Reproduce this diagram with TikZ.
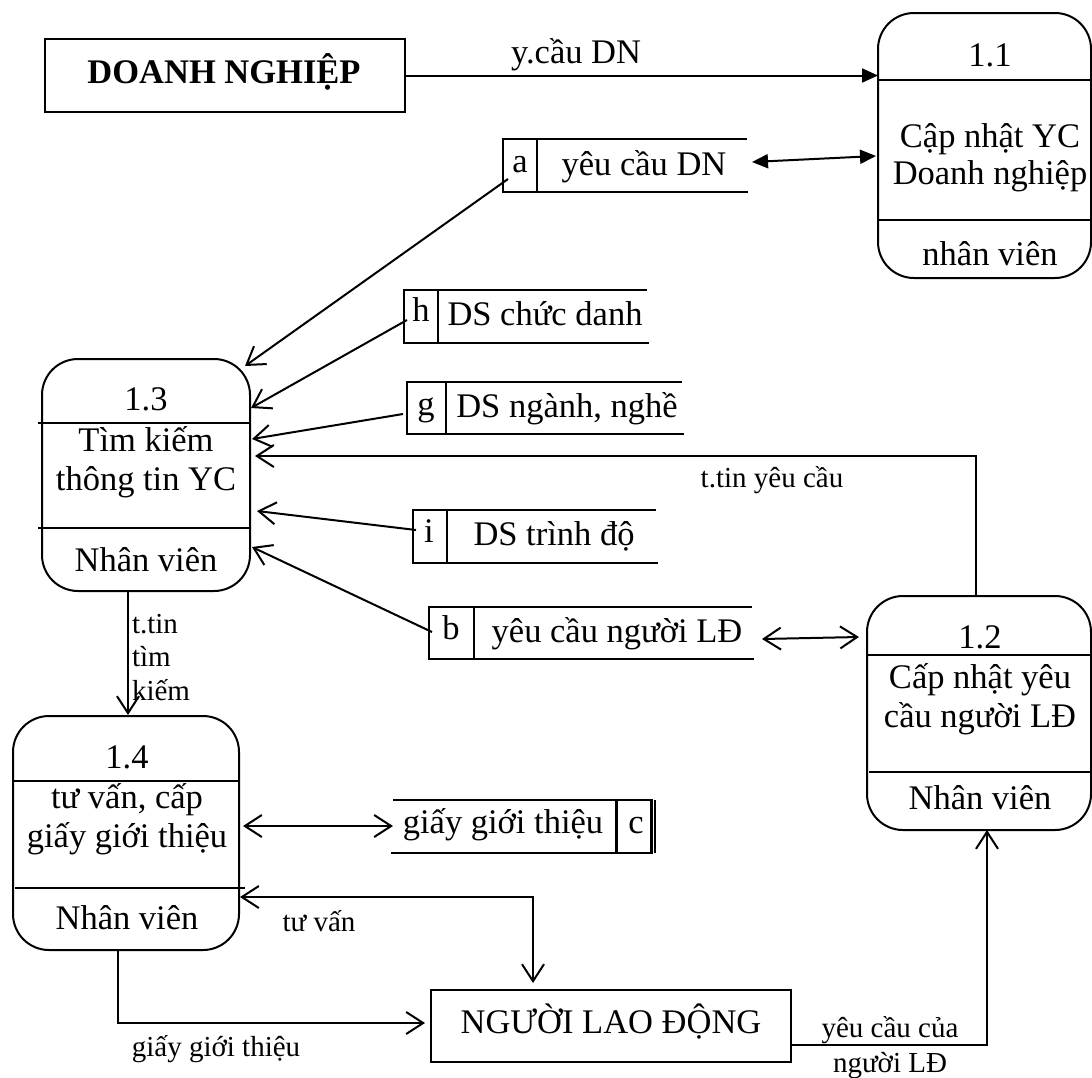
\documentclass[tikz,border=0pt]{standalone}
\usepackage{fontspec}
\setmainfont{Liberation Serif}
\usetikzlibrary{arrows.meta}
\begin{document}
\begin{tikzpicture}[x=0.5pt,y=-0.5pt,
  every node/.style={inner sep=0pt, outer sep=0pt},
  proc/.style={draw, line width=1pt, rounded corners=18pt},
  ent/.style={draw, line width=1pt},
  idbox/.style={draw, line width=1.2pt},
  divider/.style={line width=0.8pt},
  storeline/.style={line width=1pt},
  big/.style={font=\fontsize{17.25}{20}\selectfont, anchor=base},
  small/.style={font=\fontsize{14.5}{17}\selectfont, anchor=base},
  flow/.style={line width=1pt, -{Straight Barb[length=8.5pt,width=11pt]}},
  both/.style={line width=1pt, {Straight Barb[length=8.5pt,width=11pt]}-{Straight Barb[length=8.5pt,width=11pt]}},
  fflow/.style={line width=1pt, -{Triangle[length=8pt,width=7pt]}},
  fboth/.style={line width=1pt, {Triangle[length=8pt,width=7pt]}-{Triangle[length=8pt,width=7pt]}}
]
\useasboundingbox (0,0) rectangle (1092,1077);

% ---------- external entities ----------
\node[ent, minimum width=180pt, minimum height=36.5pt] (dn) at (225,75.5) {};
\node[big, font=\fontsize{17.25}{20}\selectfont\bfseries] (dnt) at (224,83) {DOANH NGHIỆP};
\node[ent, minimum width=180pt, minimum height=36pt] (nld) at (611,1026) {};
\node[big] (nldt) at (611,1033) {NGƯỜI LAO ĐỘNG};

% ---------- processes ----------
% 1.1
\node[proc, minimum width=106.5pt, minimum height=132.5pt] (p11) at (984.5,145.5) {};
\draw[divider] (878,80) -- (1091,80);
\draw[divider] (878,220) -- (1091,220);
\node[big] (p11n) at (990,66) {1.1};
\node[big] (p11a) at (990,147) {Cập nhật YC};
\node[big] (p11b) at (990,184) {Doanh nghiệp};
\node[big] (p11c) at (990,265) {nhân viên};

% 1.3
\node[proc, minimum width=104pt, minimum height=116pt] (p13) at (146,475) {};
\draw[divider] (38,423) -- (250,423);
\draw[divider] (38,528) -- (250,528);
\node[big] (p13n) at (146,410) {1.3};
\node[big] (p13a) at (146,451) {Tìm kiếm};
\node[big] (p13b) at (146,490) {thông tin YC};
\node[big] (p13c) at (146,571) {Nhân viên};

% 1.2
\node[proc, minimum width=112pt, minimum height=117pt] (p12) at (979,713) {};
\draw[divider] (867,655) -- (1091,655);
\draw[divider] (869,772) -- (1091,772);
\node[big] (p12n) at (980,648) {1.2};
\node[big] (p12a) at (980,688) {Cấp nhật yêu};
\node[big] (p12b) at (980,727) {cầu người LĐ};
\node[big] (p12c) at (980,809) {Nhân viên};

% 1.4
\node[proc, minimum width=113pt, minimum height=117pt] (p14) at (126,833) {};
\draw[divider] (13,781) -- (239,781);
\draw[divider] (15,888) -- (245,888);
\node[big] (p14n) at (127,768) {1.4};
\node[big] (p14a) at (127,808) {tư vấn, cấp};
\node[big] (p14b) at (127,847) {giấy giới thiệu};
\node[big] (p14c) at (127,929) {Nhân viên};

% ---------- data stores ----------
% a
\node[idbox, minimum width=17pt, minimum height=26.5pt] (sa) at (520,165.5) {};
\draw[storeline] (503,139) -- (747,139);
\draw[storeline] (503,192) -- (748,192);
\node[big] (sal) at (520,172) {a};
\node[big] (sat) at (644,175) {yêu cầu DN};
% h
\node[idbox, minimum width=17pt, minimum height=26.5pt] (sh) at (421,316.5) {};
\draw[storeline] (404,290) -- (647,290);
\draw[storeline] (404,343) -- (649,343);
\node[big] (shl) at (421,321) {h};
\node[big] (sht) at (545,325) {DS chức danh};
% g
\node[idbox, minimum width=19.5pt, minimum height=26pt] (sg) at (426.5,408) {};
\draw[storeline] (407,382) -- (682,382);
\draw[storeline] (407,434) -- (684,434);
\node[big] (sgl) at (426,415) {g};
\node[big] (sgt) at (567,417) {DS ngành, nghề};
% i
\node[idbox, minimum width=17pt, minimum height=26.5pt] (si) at (430,536.5) {};
\draw[storeline] (413,510) -- (656,510);
\draw[storeline] (413,563) -- (658,563);
\node[big] (sil) at (429,542) {i};
\node[big] (sit) at (554,545) {DS trình độ};
% b
\node[idbox, minimum width=22.5pt, minimum height=26pt] (sb) at (451.5,633) {};
\draw[storeline] (429,607) -- (752,607);
\draw[storeline] (429,659) -- (754,659);
\node[big] (sbl) at (451,639) {b};
\node[big] (sbt) at (617,642) {yêu cầu người LĐ};
% c
\node[idbox, minimum width=17.5pt, minimum height=26.5pt] (sc) at (634,826.5) {};
\draw[storeline] (393,800) -- (652,800);
\draw[storeline] (391,853) -- (652,853);
\draw[storeline] (655,800) -- (655,853);
\node[big] (scl) at (636,833) {c};
\node[big] (sct) at (503,833) {giấy giới thiệu};

% ---------- connector ends ----------
\coordinate (p11-in) at (876,156);
\coordinate (a-r) at (752,162);
\coordinate (a-l) at (508,179);
\coordinate (h-l) at (407,320);
\coordinate (g-l) at (403,414);
\coordinate (i-l) at (416,530);
\coordinate (b-l) at (432,632);
\coordinate (b-r) at (762,639);
\coordinate (c-l) at (393,826);
\coordinate (p13-a) at (245,366);
\coordinate (p13-h) at (251,408);
\coordinate (p13-g) at (252,439);
\coordinate (p13-t) at (255,456);
\coordinate (p13-i) at (257,511);
\coordinate (p13-b) at (252,547);
\coordinate (p13-out) at (128,591);
\coordinate (p14-in) at (128,715);
\coordinate (p14-c) at (243,826);
\coordinate (p14-tv) at (240,897);
\coordinate (p14-out) at (118,950);
\coordinate (nld-tv) at (533,983);
\coordinate (nld-gt) at (425,1023);
\coordinate (nld-out) at (791,1045);
\coordinate (p12-top) at (976,596);
\coordinate (p12-b) at (859,637);
\coordinate (p12-in) at (987,830);

% ---------- data flows ----------
\draw[fflow] (dn.east) -- (dn.east -| p11.west);
\node[big] (f1) at (576,63) {y.cầu DN};
\draw[fboth] (a-r) -- (p11-in);

\draw[flow] (a-l) -- (p13-a);
\draw[flow] (h-l) -- (p13-h);
\draw[flow] (g-l) -- (p13-g);
\draw[flow] (i-l) -- (p13-i);
\draw[flow] (b-l) -- (p13-b);
\draw[flow] (p12-top) |- (p13-t);
\node[small] (f2) at (772,487) {t.tin yêu cầu};
\draw[both] (b-r) -- (p12-b);

\draw[flow] (p13-out) -- (p14-in);
\node[small, anchor=base west] (f3a) at (132,633) {t.tin};
\node[small, anchor=base west] (f3b) at (132,666) {tìm};
\node[small, anchor=base west] (f3c) at (132,700) {kiếm};

\draw[both] (p14-c) -- (c-l);
\draw[both] (p14-tv) -| (nld-tv);
\node[small] (f4) at (319,931) {tư vấn};
\draw[flow] (p14-out) |- (nld-gt);
\node[small] (f5) at (216,1056) {giấy giới thiệu};
\draw[flow] (nld-out) -| (p12-in);
\node[small] (f6a) at (890,1037) {yêu cầu của};
\node[small] (f6b) at (890,1072) {người LĐ};
\end{tikzpicture}
\end{document}
